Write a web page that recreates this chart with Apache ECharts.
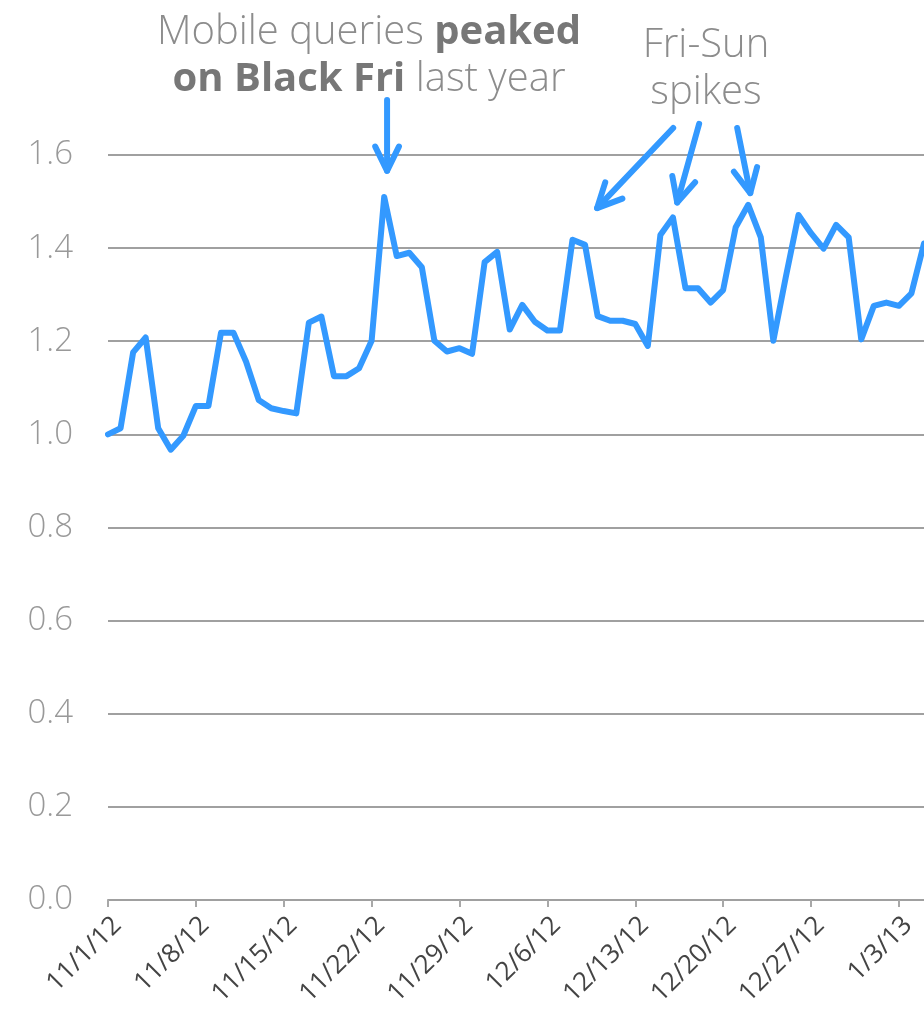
<!DOCTYPE html>
<html>
<head>
    <meta charset="utf-8">
    <script src="https://cdn.jsdelivr.net/npm/echarts@6/dist/echarts.min.js"></script>
    <style>
        html, body {margin: 0; padding: 0; background: #fff;}
    </style>
</head>
<body>
<div id="main" style="width: 924px;height:1009px;"></div>

<script>
    // index of each point = days since 11/1/12
    var startDate = new Date(2012, 10, 1);
    var dayCount = 66;

    // relative mobile query volume, one value per day
    var values = [
        1.000, 1.013, 1.176, 1.208, 1.013, 0.967, 0.997, 1.061, 1.061, 1.218,
        1.218, 1.156, 1.074, 1.056, 1.050, 1.045, 1.240, 1.253, 1.125, 1.125,
        1.142, 1.201, 1.510, 1.383, 1.390, 1.359, 1.201, 1.178, 1.185, 1.173,
        1.370, 1.392, 1.225, 1.278, 1.242, 1.223, 1.223, 1.418, 1.407, 1.254,
        1.244, 1.244, 1.237, 1.190, 1.428, 1.466, 1.314, 1.314, 1.283, 1.310,
        1.445, 1.493, 1.423, 1.201, 1.339, 1.471, 1.432, 1.399, 1.450, 1.423,
        1.204, 1.276, 1.283, 1.276, 1.303, 1.410
    ];

    var yTicks = [0, 0.2, 0.4, 0.6, 0.8, 1.0, 1.2, 1.4, 1.6];

    // arrows in data space: [tailDay, tailValue, tipDay, tipValue]
    var arrows = [
        [22.23, 1.718, 22.23, 1.566],
        [45.02, 1.658, 38.96, 1.486],
        [47.09, 1.667, 45.34, 1.498],
        [50.12, 1.658, 51.16, 1.518]
    ];

    var dateLabels = [];
    for (var i = 0; i < dayCount; i++) {
        var d = new Date(startDate.getTime());
        d.setDate(d.getDate() + i);
        dateLabels.push((d.getMonth() + 1) + '/' + d.getDate() + '/' + String(d.getFullYear()).slice(2));
    }

    var seriesData = values.map(function (v, i) { return [i, v]; });

    var blue = '#3399ff';
    var myChart = echarts.init(document.getElementById('main'));

    var option = {
        animation: false,
        grid: {left: 108, right: 0, top: 155, bottom: 109},
        xAxis: {
            type: 'value',
            min: 0,
            max: dayCount - 1,
            interval: 7,
            splitLine: {show: false},
            axisLine: {lineStyle: {color: '#a0a0a0', width: 2}},
            axisTick: {show: true, length: 7, lineStyle: {color: '#a8a8a8', width: 2}},
            axisLabel: {
                rotate: 45,
                margin: 12,
                verticalAlign: 'top',
                showMaxLabel: false,
                color: '#444',
                fontFamily: 'Open Sans',
                fontSize: 26,
                formatter: function (v) { return dateLabels[v] || ''; }
            }
        },
        yAxis: {
            type: 'value',
            min: yTicks[0],
            max: yTicks[yTicks.length - 1],
            interval: 0.2,
            axisLine: {show: false},
            axisTick: {show: false},
            splitLine: {lineStyle: {color: '#a0a0a0', width: 2}},
            axisLabel: {
                margin: 35,
                color: '#999',
                fontFamily: 'Open Sans',
                fontWeight: 300,
                fontSize: 33,
                formatter: function (v) { return v.toFixed(1); }
            }
        },
        series: [{
            type: 'line',
            data: seriesData,
            showSymbol: false,
            lineStyle: {color: blue, width: 6, cap: 'round', join: 'round'}
        }]
    };
    myChart.setOption(option);

    // annotations
    function arrowShapes(a) {
        var tail = myChart.convertToPixel({gridIndex: 0}, [a[0], a[1]]);
        var tip = myChart.convertToPixel({gridIndex: 0}, [a[2], a[3]]);
        var ang = Math.atan2(tail[1] - tip[1], tail[0] - tip[0]);
        var len = 27, spread = 26 * Math.PI / 180;
        var w1 = [tip[0] + len * Math.cos(ang - spread), tip[1] + len * Math.sin(ang - spread)];
        var w2 = [tip[0] + len * Math.cos(ang + spread), tip[1] + len * Math.sin(ang + spread)];
        var st = {stroke: blue, lineWidth: 6, lineCap: 'round', lineJoin: 'round', fill: null};
        return [
            {type: 'polyline', shape: {points: [tail, tip]}, style: st},
            {type: 'polyline', shape: {points: [w1, tip, w2]}, style: st}
        ];
    }

    var graphics = [];
    arrows.forEach(function (a) { graphics = graphics.concat(arrowShapes(a)); });

    var richText = {
        l: {fontFamily: 'Open Sans', fontWeight: 300, fontSize: 40, fill: '#8c8c8c', lineHeight: 47},
        b: {fontFamily: 'Open Sans', fontWeight: 700, fontSize: 40, fill: '#777777', lineHeight: 47}
    };
    graphics.push({
        type: 'text',
        x: 369, y: 9,
        style: {
            text: '{l|Mobile queries }{b|peaked}\n{b|on Black Fri}{l| last year}',
            align: 'center',
            verticalAlign: 'top',
            rich: richText
        }
    });
    graphics.push({
        type: 'text',
        x: 706, y: 22,
        style: {
            text: '{l|Fri-Sun}\n{l|spikes}',
            align: 'center',
            verticalAlign: 'top',
            rich: richText
        }
    });

    myChart.setOption({graphic: graphics});
</script>
</body>
</html>
